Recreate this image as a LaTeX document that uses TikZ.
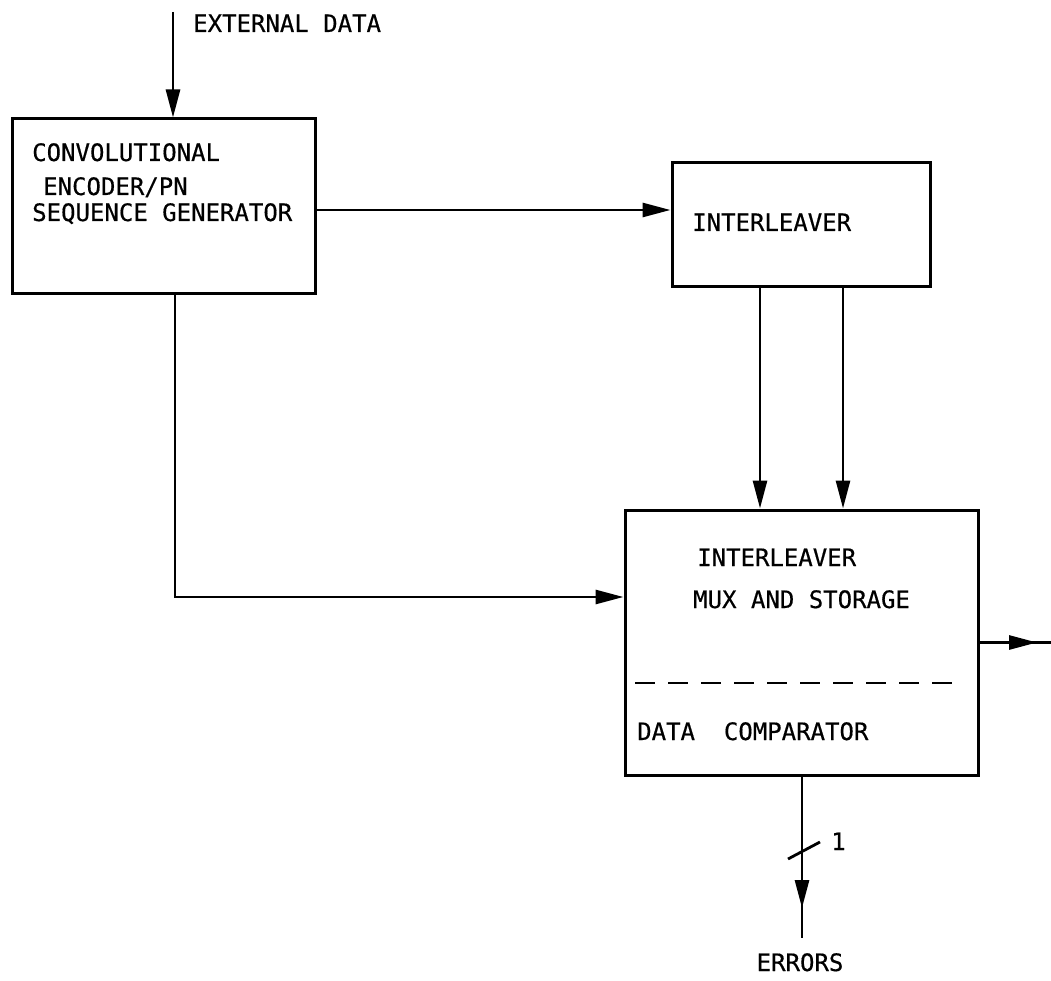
\documentclass[tikz,border=0pt]{standalone}
\usepackage{fontspec}
\setmonofont[FakeBold=0.5]{DejaVu Sans Mono}
\usetikzlibrary{arrows.meta}
\begin{document}
\begin{tikzpicture}[x=1pt,y=-1pt,
  wire/.style={line width=2.8pt},
  arr/.style={wire,-{Triangle[length=28pt,width=14pt]}},
  blockbox/.style={draw,line width=3pt,inner sep=0pt},
  lbl/.style={font=\ttfamily\fontsize{24}{24}\selectfont,inner sep=0pt,anchor=base west},
]
\useasboundingbox (0,0) rectangle (1051,981);

% blocks
\node[blockbox,minimum width=303pt,minimum height=175pt] (enc) at (163.5,206.5) {};
\node[blockbox,minimum width=258pt,minimum height=124pt] (il) at (801,225) {};
\node[blockbox,minimum width=353pt,minimum height=265pt] (cmp) at (801.5,642.5) {};

% block texts
\node[lbl] (t1) at (32,161) {CONVOLUTIONAL};
\node[lbl] (t2) at (43,195) {ENCODER/PN};
\node[lbl] (t3) at (32,221) {SEQUENCE GENERATOR};
\node[lbl] (t4) at (692,231) {INTERLEAVER};
\node[lbl] (t5) at (697,566) {INTERLEAVER};
\node[lbl] (t6) at (693,608) {MUX AND STORAGE};
\node[lbl] (t7) at (637,740) {DATA\ \ COMPARATOR};

% free ends and routing levels
\coordinate (extin) at (173,12);
\coordinate (row) at (0,210);
\coordinate (fbrow) at (0,597);
\coordinate (outtip) at (1037,642.5);
\coordinate (outend) at (1051,642.5);
\coordinate (errtip) at (802,908);
\coordinate (errend) at (802,938);

% external input
\node[lbl] (ext) at (193,32) {EXTERNAL DATA};
\draw[arr] (extin) -- (extin |- enc.north);

% encoder to interleaver
\draw[arr] (enc.east |- row) -- (il.west |- row);

% interleaver outputs
\draw[arr] ([xshift=-41pt]il.south) -- ([xshift=-41pt]il.south |- cmp.north);
\draw[arr] ([xshift=42pt]il.south) -- ([xshift=42pt]il.south |- cmp.north);

% encoder to mux/storage
\draw[arr] ([xshift=11.5pt]enc.south) |- (cmp.west |- fbrow);

% output line
\draw[wire] (cmp.east) -- (outend);
\draw[arr] (cmp.east) -- (outtip);

% section divider
\coordinate (dl) at (635,683);
\coordinate (dr) at (965,683);
\draw[wire,dash pattern=on 20pt off 13pt] (dl) -- (dr);

% error output
\draw[wire] ([xshift=0.5pt]cmp.south) -- (errend);
\draw[arr] ([xshift=0.5pt]cmp.south) -- (errtip);
\coordinate (sa) at (788,859);
\coordinate (sb) at (820,842);
\draw[wire] (sa) -- (sb);
\node[lbl] (one) at (831,850) {1};
\node[lbl,anchor=base] (err) at (800,971) {ERRORS};
\end{tikzpicture}
\end{document}
